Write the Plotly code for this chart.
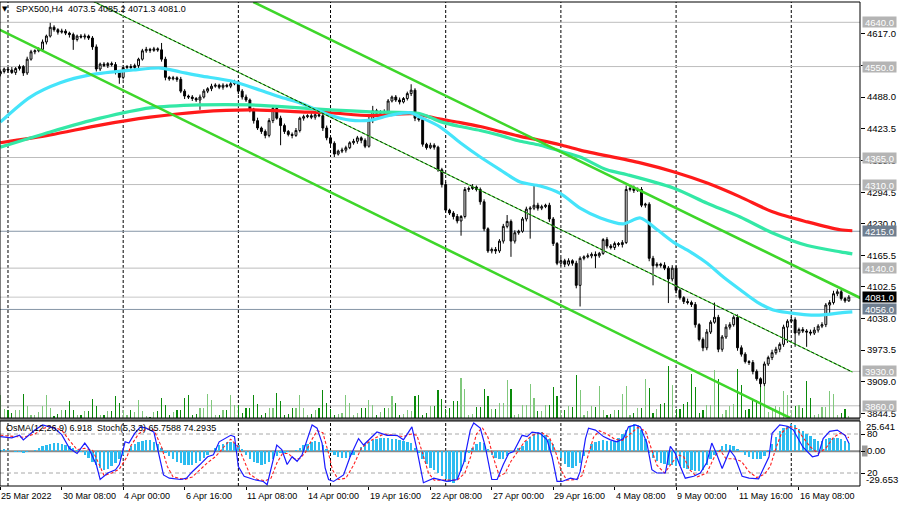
import plotly.graph_objects as go

FONT = "Liberation Sans"

# ---------------- price data (H4 bars) ----------------
first_open = 4535
closes = [
    4540, 4545, 4543, 4538, 4546, 4550, 4537, 4565, 4580, 4582,
    4585, 4600, 4612, 4630, 4625, 4620, 4622, 4618, 4615, 4605,
    4612, 4610, 4612, 4608, 4590, 4545, 4555, 4552, 4556, 4554,
    4540, 4528, 4548, 4550, 4548, 4552, 4565, 4582, 4585, 4583,
    4586, 4584, 4565, 4528, 4525, 4527, 4524, 4500, 4490, 4488,
    4485, 4482, 4488, 4500, 4505, 4510, 4512, 4508, 4512, 4510,
    4515, 4519, 4500, 4488, 4482, 4462, 4440, 4425, 4418, 4410,
    4440, 4465, 4445, 4430, 4418, 4412, 4410, 4420, 4445, 4448,
    4450, 4447, 4452, 4450, 4425, 4405, 4394, 4372, 4378, 4380,
    4385, 4395, 4398, 4405, 4400, 4388, 4440, 4460, 4455, 4458,
    4456, 4480, 4488, 4482, 4478, 4485, 4495, 4502, 4445, 4442,
    4392, 4385, 4390, 4386, 4340, 4310, 4258, 4252, 4245, 4236,
    4245, 4300, 4302, 4305, 4300, 4275, 4220, 4175, 4178, 4175,
    4195, 4225, 4235, 4195, 4212, 4215, 4240, 4260, 4262, 4268,
    4262, 4265, 4268, 4240, 4190, 4150, 4155, 4148, 4155, 4150,
    4105, 4160, 4163, 4165, 4168, 4165, 4170, 4198, 4185, 4182,
    4190, 4188, 4192, 4300, 4302, 4298, 4300, 4268, 4270, 4160,
    4145, 4148, 4146, 4140, 4118, 4140, 4095, 4080, 4072, 4070,
    4066, 4025, 3995, 3978, 4010, 4030, 4040, 3975, 4000, 4020,
    4025, 4040, 3978, 3965, 3950, 3948, 3930, 3915, 3905, 3945,
    3958, 3968, 3975, 3985, 4020, 4032, 4035, 4008, 4015, 4012,
    4010, 4008, 4014, 4022, 4025, 4065, 4070, 4088, 4092, 4078,
    4073.5, 4081.0,
]
up_wick = [
    4, 3, 5, 6, 3, 4, 3, 5, 4, 3,
    4, 5, 3, 9, 4, 3, 5, 4, 3, 4,
    3, 4, 5, 3, 4, 5, 3, 4, 3, 4,
    5, 3, 4, 3, 5, 4, 3, 4, 5, 3,
    4, 3, 14, 5, 3, 4, 3, 5, 4, 3,
    4, 3, 5, 4, 3, 5, 4, 3, 4, 3,
    5, 4, 3, 4, 5, 3, 4, 6, 3, 4,
    5, 4, 3, 5, 4, 3, 4, 5, 3, 4,
    3, 5, 4, 3, 4, 5, 3, 4, 3, 5,
    4, 3, 5, 4, 3, 4, 12, 10, 4, 3,
    5, 4, 3, 4, 5, 3, 4, 12, 4, 5,
    4, 3, 5, 4, 3, 4, 5, 3, 4, 5,
    3, 5, 4, 6, 3, 4, 5, 3, 4, 5,
    4, 5, 13, 4, 5, 3, 4, 5, 4, 41,
    5, 4, 3, 5, 4, 3, 6, 4, 5, 3,
    5, 4, 3, 5, 4, 6, 3, 3, 5, 4,
    4, 3, 5, 8, 4, 6, 4, 5, 3, 4,
    5, 4, 3, 6, 4, 6, 5, 4, 3, 6,
    4, 5, 3, 4, 6, 4, 30, 5, 4, 6,
    5, 4, 6, 5, 4, 3, 5, 4, 3, 5,
    4, 6, 5, 4, 5, 4, 6, 5, 4, 5,
    4, 5, 6, 4, 5, 4, 5, 6, 5, 4,
    3, 4.2,
]
dn_wick = [
    5, 4, 6, 3, 5, 4, 6, 4, 3, 5,
    3, 4, 5, 3, 4, 5, 3, 4, 6, 21,
    4, 3, 5, 4, 6, 5, 4, 3, 5, 4,
    6, 13, 4, 5, 3, 4, 6, 3, 4, 5,
    3, 4, 5, 6, 4, 3, 5, 4, 6, 4,
    5, 4, 20, 3, 4, 5, 3, 4, 5, 3,
    4, 3, 6, 5, 4, 5, 6, 4, 5, 6,
    4, 5, 3, 40, 5, 4, 6, 3, 4, 5,
    3, 4, 5, 3, 6, 5, 4, 6, 3, 4,
    5, 3, 4, 5, 6, 4, 3, 5, 4, 3,
    4, 5, 3, 4, 5, 3, 4, 5, 6, 4,
    5, 4, 3, 5, 4, 6, 5, 4, 6, 5,
    30, 4, 5, 3, 4, 6, 5, 4, 5, 6,
    4, 5, 4, 32, 5, 4, 3, 5, 60, 4,
    5, 4, 3, 6, 5, 4, 5, 6, 4, 5,
    6, 43, 4, 3, 5, 25, 4, 3, 5, 4,
    5, 4, 6, 3, 4, 5, 3, 4, 5, 6,
    40, 4, 5, 4, 49, 5, 6, 4, 5, 4,
    5, 6, 4, 7, 5, 4, 3, 6, 5, 4,
    5, 4, 6, 5, 4, 5, 6, 4, 7, 5,
    4, 5, 4, 6, 5, 32, 4, 28, 5, 4,
    30, 5, 4, 5, 4, 5, 20, 4, 5, 4,
    4, 2.2,
]
volumes = [
    23, 9, 8, 5, 8, 8, 24, 12, 3, 3,
    6, 12, 23, 10, 2, 4, 8, 8, 17, 8,
    3, 3, 7, 7, 19, 12, 3, 3, 7, 7,
    22, 15, 8, 3, 8, 6, 18, 7, 2, 1,
    6, 7, 20, 13, 3, 6, 8, 8, 20, 23,
    3, 4, 10, 10, 24, 18, 3, 3, 8, 8,
    23, 13, 13, 5, 10, 10, 23, 14, 3, 5,
    10, 10, 25, 17, 3, 4, 10, 10, 23, 10,
    3, 4, 8, 10, 28, 15, 9, 3, 4, 5,
    23, 15, 3, 5, 10, 10, 18, 13, 3, 6,
    10, 10, 22, 15, 3, 4, 8, 7, 22, 23,
    3, 5, 12, 12, 28, 19, 9, 10, 17, 17,
    40, 29, 3, 4, 11, 11, 29, 22, 9, 9,
    15, 15, 38, 29, 3, 4, 13, 13, 34, 20,
    7, 7, 13, 13, 31, 22, 8, 8, 12, 11,
    43, 28, 3, 7, 12, 11, 32, 8, 3, 4,
    8, 8, 24, 32, 3, 5, 10, 10, 39, 30,
    5, 9, 14, 15, 52, 33, 9, 9, 14, 16,
    44, 31, 5, 8, 13, 13, 48, 39, 4, 8,
    12, 14, 49, 33, 8, 9, 18, 18, 31, 32,
    6, 8, 12, 11, 27, 23, 8, 12, 13, 10,
    37, 20, 3, 4, 11, 11, 27, 24, 3, 5,
    9, 2,
]
osma = [
    1, 1.5, 1, 0.5, -0.5, -1, -1.5, -1, 0,
    1, 2.5, 4, 5, 6, 6.8, 7, 6.5, 5.5,
    4, 2.5, 1, -1,
    -3, -6, -9, -12, -14.5, -15.7, -15, -13,
    -10, -6.5, -3,
    1, 4, 6.5, 8, 9, 9.6, 9.3, 8, 6,
    2.5, -1.5,
    -4.5, -7, -9, -10.5, -11.5, -12, -11.5, -10, -8, -6,
    -3, 0.5, 3, 5, 6.5, 7.8, 8, 7, 5,
    1.5, -3, -6.5, -9, -10.5, -11.5, -11, -9.5, -7,
    -4, -2, -1.5, -1, 0, 1,
    3, 5, 6.5, 7.5, 8.5, 7.5, 5, 2,
    -1, -3.5, -5, -5.8, -6, -5, -3,
    0.5, 3.5, 6, 8, 9.5, 10.5, 11, 11.2, 11, 10.5, 10, 9.5, 9, 8, 7,
    3, -2, -7, -11, -14, -16, -18.5, -21, -24, -26, -27,
    -24, -17, -9, -2, 3, 6.5, 8, 7, 2, -3, -5.5, -7, -6.5, -4.5, -2, 0.5, 2.5,
    4.5, 9, 12, 15, 16.5, 16, 14, 10.5, 6,
    -1, -6, -11, -13.5, -14, -13, -10,
    -4, 1,
    6, 8, 9, 9.5, 9, 8.5, 9, 11, 14.5, 18, 21.5, 23.5, 22, 18, 10,
    -2, -6, -8.5, -10, -11, -11.5, -12, -12.5, -13, -14, -15, -15.7, -16.5, -17, -16, -12,
    -7, -3, 1, 4, 6, 5.5, 4, 2, -1, -3, -5, -6.5, -7, -6.5, -4,
    1, 6, 12, 17, 19.5, 21.5, 23.5, 22, 19, 17, 14.5, 12.5, 10.5, 9, 9, 10, 11, 11.5, 11, 10, 8.5, 6.9,
]
stoch_main_pts = [
    (0, 76), (3, 74), (5, 78), (6, 71), (9, 86), (11, 94), (14, 89), (16, 79), (18, 58), (20, 50),
    (22, 66), (23, 58), (25, 33), (26, 10), (28, 20), (30, 25), (31, 33), (32.5, 68), (33.5, 66), (35, 81),
    (36.5, 91), (38, 89), (40, 83), (41, 56), (42.5, 17), (44, 12), (47, 10), (48.5, 12), (50, 22), (52, 33),
    (54, 45), (55.5, 48), (57, 68), (60, 78), (61, 76), (62, 30), (63.5, 15), (66, 10), (68.5, 7), (69.5, 2),
    (70.7, 30), (72, 63), (73.3, 56), (74.7, 33), (76, 45), (77.3, 38), (78.6, 48), (80, 71), (81.2, 94), (82.5, 89),
    (83.8, 66), (84.6, 28), (85.5, 10), (86.8, 7), (89.4, 17), (91.1, 45), (93.3, 73), (94.6, 63), (96.4, 73), (98.1, 83),
    (100.7, 78), (103.3, 78), (105, 71), (107.2, 91), (108.5, 56), (110.2, 5), (112.9, 12), (114.6, 10), (116.3, 7), (119, 10),
    (120.7, 36), (122.4, 86), (123.3, 97), (125, 89), (126.3, 61), (128, 10), (129.4, 10), (131, 33), (132.4, 50), (133.7, 53),
    (135.9, 78), (137.2, 76), (138.5, 83), (140.6, 81), (142.4, 71), (143.7, 45), (145, 7), (146.3, 7), (148.5, 12), (150.2, 10),
    (151, 22), (152.4, 73), (153.2, 89), (155, 86), (157.1, 76), (158.9, 71), (160.6, 68), (162.3, 73), (163.6, 91), (165.4, 94),
    (166.7, 91), (168.4, 66), (169.7, 25), (171, 20), (173.2, 20), (174.5, 61), (175.8, 50), (177.1, 30), (178.4, 12), (180.6, 15),
    (182.3, 20), (184, 36), (185.3, 66), (186.5, 50), (188, 27), (190, 55), (191.3, 45), (193.2, 15), (195, 12), (197.5, 11),
    (198.8, 28), (200.2, 45), (201, 81), (203, 94), (205, 92), (206.6, 86), (207.3, 78), (209, 60), (211.5, 45), (213, 47),
    (214.3, 73), (216, 84), (218, 86), (220, 78), (221, 65.76),
]
stoch_signal_pts = [
    (0, 78), (3, 76), (6, 75), (9, 80), (11, 88), (13, 92), (16, 86), (18, 70), (20, 56), (22, 58),
    (24, 55), (26, 30), (27, 16), (29, 20), (31, 26), (33, 45), (34, 62), (36, 80), (38, 88), (40, 86),
    (42, 60), (43.5, 30), (45, 14), (48, 10), (50, 14), (52, 25), (54, 36), (56, 45), (58, 58), (60, 72),
    (62, 60), (63.5, 40), (65, 18), (67, 10), (69, 8), (70.5, 12), (72, 35), (73.5, 50), (75, 50), (76.5, 42),
    (78, 42), (79.5, 52), (81, 70), (82.5, 85), (84, 82), (85.5, 50), (86.5, 25), (88, 10), (90, 12), (92, 32),
    (94, 58), (96, 68), (98, 75), (100, 80), (103, 78), (105, 76), (107, 80), (108.5, 78), (110, 50), (111.5, 20),
    (113, 9), (116, 9), (119, 9), (121, 20), (122.5, 45), (124, 80), (125.5, 90), (127, 75), (128.5, 42), (130, 15),
    (131.5, 20), (133, 38), (135, 55), (136.5, 68), (138.5, 78), (141, 82), (143, 75), (144.5, 55), (146, 25), (147.5, 9),
    (150, 10), (151.5, 16), (153, 45), (154.5, 75), (156, 85), (158, 80), (160, 72), (162, 70), (164, 80), (166, 90),
    (168, 85), (169.5, 60), (171, 32), (173, 20), (175, 35), (176.5, 48), (178, 45), (179.5, 25), (181.5, 14), (184, 20),
    (186, 45), (187.5, 55), (189, 42), (191, 42), (193, 38), (195, 22), (197, 13), (199, 18), (200.5, 30), (202, 58),
    (203.5, 82), (205.5, 92), (207.5, 88), (209, 75), (211, 60), (213, 50), (215, 58), (217, 75), (219, 82), (221, 74.29),
]
# moving averages, sampled (bar position, price)
ma_fast_pts = [
    (0, 4437), (7.8, 4488), (15.6, 4517), (23.4, 4533), (34.6, 4543), (41.7, 4547), (46.9, 4539), (52.1, 4531),
    (59.9, 4521), (67.7, 4502), (72.9, 4488), (78.1, 4476), (85.9, 4451), (91.1, 4441), (96.4, 4441), (101.6, 4451),
    (106.8, 4456), (109.4, 4447), (114.6, 4427), (119.8, 4395), (125, 4366), (130.2, 4340), (135.4, 4315),
    (140.6, 4307), (145.8, 4292), (151, 4262), (156.3, 4242), (162.2, 4230), (166.7, 4242), (171.1, 4218),
    (175.3, 4193), (179.7, 4173), (184.1, 4150), (188.3, 4122), (192.7, 4096), (197.1, 4071), (201.3, 4055),
    (205.7, 4049), (210.2, 4045), (214.3, 4045), (218.8, 4049), (221.9, 4051),
]
ma_mid_pts = [
    (0, 4386), (13, 4417), (26, 4445), (39, 4466), (52.1, 4472), (65.1, 4472), (78.1, 4466), (85.9, 4462),
    (96.4, 4458), (109.4, 4454), (114.6, 4438), (119.8, 4428), (125, 4420), (130.2, 4410), (135.4, 4398),
    (140.6, 4390), (145.8, 4378), (151, 4366), (158, 4340), (163.3, 4330), (175.3, 4303), (184.1, 4272),
    (192.7, 4244), (201.3, 4211), (210.2, 4186), (218.8, 4173), (221.9, 4169),
]
ma_slow_pts = [
    (0, 4395), (13, 4411), (26, 4431), (39, 4447), (52.1, 4458), (65.1, 4462), (78.1, 4458), (85.9, 4456),
    (96.4, 4450), (107.5, 4454), (114.6, 4443), (119.8, 4436), (125, 4428), (130.2, 4418), (135.4, 4408),
    (140.6, 4400), (145.8, 4391), (151, 4380), (166.7, 4354), (175.3, 4336), (184.1, 4313), (192.7, 4285),
    (201.3, 4254), (210.2, 4234), (218.8, 4218), (221.9, 4216),
]
# trend channel lines (bar, price)
channel_low = [(-1, 4628.2), (205.7, 3835.2)]
channel_up = [(65.9, 4681.3), (224.0, 4079.3)]
channel_mid = [(24.0, 4683.4), (221.9, 3928.8)]

levels = [4640.0, 4550.0, 4365.0, 4310.0, 4215.0, 4140.0, 4081.0, 4056.0, 3930.0, 3860.0]
level_kind = ["s", "s", "s", "s", "b", "s", "c", "b", "s", "s"]
price_ticks = [4617.0, 4552.5, 4488.0, 4423.5, 4359.0, 4294.5, 4230.0, 4165.5, 4102.5,
               4038.0, 3973.5, 3909.0, 3844.5]
x_tick_bars = [0, 16, 32, 48, 64, 80, 96, 112, 128, 144, 160, 176, 192, 208]
x_tick_labels = ["25 Mar 2022", "30 Mar 08:00", "4 Apr 00:00", "6 Apr 16:00", "11 Apr 08:00",
                 "14 Apr 00:00", "19 Apr 16:00", "22 Apr 08:00", "27 Apr 00:00", "29 Apr 16:00",
                 "4 May 08:00", "9 May 00:00", "11 May 16:00", "16 May 08:00"]
week_start_bars = [2, 32, 62, 86, 116, 146, 176, 206]

n = len(closes)
assert len(up_wick) == n and len(dn_wick) == n and len(volumes) == n and len(osma) == n, \
    (n, len(up_wick), len(dn_wick), len(volumes), len(osma))

bars = list(range(n))
opens = [first_open] + closes[:-1]
highs = [max(o, c) + u for o, c, u in zip(opens, closes, up_wick)]
lows = [min(o, c) - d for o, c, d in zip(opens, closes, dn_wick)]

# ---------------- geometry ----------------
W, H = 900, 506
MT, MB, ML, MR = 2, 20, 0, 40
PH = H - MT - MB
main_bottom = (H - MB - 418) / PH
sub_top = (H - MB - 421) / PH
x_range = [-0.08, 223.9]

fig = go.Figure()

# volume (base axis of main pane)
vol_colors = ["#0a8a0a" if c < o else "#80c87c" for o, c in zip(opens, closes)]
fig.add_trace(go.Bar(x=bars, y=volumes, width=0.3, marker=dict(color=vol_colors, line=dict(width=0)),
                     xaxis="x", yaxis="y", hoverinfo="skip", showlegend=False))

# candles
fig.add_trace(go.Candlestick(
    x=bars, open=opens, high=highs, low=lows, close=closes, xaxis="x", yaxis="y2",
    increasing=dict(line=dict(color="#000000", width=1), fillcolor="#ffffff"),
    decreasing=dict(line=dict(color="#000000", width=1), fillcolor="#000000"),
    whiskerwidth=0, hoverinfo="skip", showlegend=False))


def add_line(pts, color, width, dash="solid", shape="linear", yaxis="y2", xaxis="x"):
    fig.add_trace(go.Scatter(x=[p[0] for p in pts], y=[p[1] for p in pts], mode="lines",
                             line=dict(color=color, width=width, dash=dash, shape=shape,
                                       smoothing=0.8 if shape == "spline" else None),
                             xaxis=xaxis, yaxis=yaxis, hoverinfo="skip", showlegend=False))


# moving averages
add_line(ma_slow_pts, "#ff1a1a", 3.2, shape="spline")
add_line(ma_mid_pts, "#33e8a6", 3.2, shape="spline")
add_line(ma_fast_pts, "#45e4fa", 3.2, shape="spline")

# channel lines
add_line(channel_low, "#3ed62a", 2.6)
add_line(channel_up, "#3ed62a", 2.6)
add_line(channel_mid, "#3ed62a", 1.2)
add_line(channel_mid, "#000000", 0.8, dash="3px,2px")

# OsMA histogram
fig.add_trace(go.Bar(x=bars, y=osma, width=0.62, marker=dict(color="#2cbcf0", line=dict(width=0)),
                     xaxis="x2", yaxis="y3", hoverinfo="skip", showlegend=False))
# stochastic
add_line(stoch_signal_pts, "#ff2020", 1.1, dash="3px,2px", xaxis="x2", yaxis="y4")
add_line(stoch_main_pts, "#1a1aff", 1.2, xaxis="x2", yaxis="y4")

shapes = []
# pane frames / separator
shapes.append(dict(type="rect", xref="paper", yref="paper", x0=0, x1=1, y0=sub_top, y1=main_bottom,
                   fillcolor="#7a7a7a", line=dict(width=0), layer="above"))
shapes.append(dict(type="rect", xref="paper", yref="paper", x0=0, x1=1, y0=main_bottom, y1=1,
                   line=dict(color="#000000", width=1), layer="above"))
shapes.append(dict(type="rect", xref="paper", yref="paper", x0=0, x1=1, y0=0, y1=sub_top,
                   line=dict(color="#000000", width=1), layer="above"))
# weekly dashed separators
for b in week_start_bars:
    for y0, y1 in [(main_bottom, 1), (0, sub_top)]:
        shapes.append(dict(type="line", xref="x", yref="paper", x0=b, x1=b, y0=y0, y1=y1,
                           line=dict(color="#000000", width=1, dash="3px,2px"), layer="below"))
# horizontal levels
for lv, k in zip(levels, level_kind):
    col = {"s": "#bdbdbd", "b": "#8595a6", "c": "#c8c8c8"}[k]
    shapes.append(dict(type="line", xref="paper", yref="y2", x0=0, x1=1, y0=lv, y1=lv,
                       line=dict(color=col, width=1), layer="below"))
# stochastic levels and OsMA zero line
for s in [80, 20]:
    shapes.append(dict(type="line", xref="paper", yref="y4", x0=0, x1=1, y0=s, y1=s,
                       line=dict(color="#a8a8a8", width=1, dash="4px,3px"), layer="below"))
shapes.append(dict(type="line", xref="paper", yref="y3", x0=0, x1=1, y0=0, y1=0,
                   line=dict(color="#8a8a8a", width=2), layer="below"))
# small grey marker behind 0.00 label
shapes.append(dict(type="rect", xref="paper", yref="paper", x0=862 / 860, x1=867.5 / 860,
                   y0=(H - MB - 456.5) / PH, y1=(H - MB - 445.5) / PH,
                   fillcolor="#9a9a9a", line=dict(width=0), layer="below"))

annotations = []
label_bg = {"s": "#b4b4b4", "b": "#6f7e8f", "c": "#000000"}
for lv, k in zip(levels, level_kind):
    annotations.append(dict(x=1, xref="paper", xanchor="left", xshift=2, y=lv, yref="y2", yanchor="middle",
                            text=f"{lv:.1f}", showarrow=False, bgcolor=label_bg[k], width=33, height=10,
                            borderpad=0, font=dict(family=FONT, size=9.5, color="#ffffff")))
# x-axis labels (left aligned at bar)
for b, t in zip(x_tick_bars, x_tick_labels):
    annotations.append(dict(x=b, xref="x", xanchor="left", xshift=-1, y=0, yref="paper", yanchor="top",
                            yshift=-3, text=t, showarrow=False, font=dict(family=FONT, size=9, color="#000000")))
# sub-pane min/max labels
annotations.append(dict(x=1, xref="paper", xanchor="left", xshift=4, y=21, yref="y3", yanchor="middle",
                        text="25.641", showarrow=False, font=dict(family=FONT, size=9.5, color="#000000")))
annotations.append(dict(x=1, xref="paper", xanchor="left", xshift=4, y=-24.3, yref="y3", yanchor="middle",
                        text="-29.653", showarrow=False, font=dict(family=FONT, size=9.5, color="#000000")))
# titles
annotations.append(dict(x=5 / 860, xref="paper", xanchor="center", y=(H - MB - 9) / PH, yref="paper",
                        yanchor="middle", text="\u25bc", showarrow=False,
                        font=dict(family="DejaVu Sans", size=7, color="#000000")))
annotations.append(dict(x=14 / 860, xref="paper", xanchor="left", y=(H - MB - 9) / PH, yref="paper",
                        yanchor="middle", text="SPX500,H4  4073.5 4085.2 4071.3 4081.0", showarrow=False,
                        font=dict(family=FONT, size=9, color="#000000")))
annotations.append(dict(x=4 / 860, xref="paper", xanchor="left", y=(H - MB - 428) / PH, yref="paper",
                        yanchor="middle", text="OsMA(12,26,9) 6.918  Stoch(5,3,3) 65.7588 74.2935",
                        showarrow=False, font=dict(family=FONT, size=9, color="#000000")))

axis_font = dict(family=FONT, size=9.5, color="#000000")
fig.update_layout(
    width=W, height=H, margin=dict(l=ML, r=MR, t=MT, b=MB),
    paper_bgcolor="#ffffff", plot_bgcolor="#ffffff", template="none",
    font=dict(family=FONT, size=9.5, color="#000000"),
    showlegend=False, barmode="overlay", bargap=0,
    xaxis=dict(domain=[0, 1], range=x_range, anchor="y", showticklabels=False, showgrid=False,
               zeroline=False, ticks="", showline=False, rangeslider=dict(visible=False), automargin=False),
    xaxis2=dict(domain=[0, 1], range=x_range, anchor="y3", matches="x", showticklabels=False,
                showgrid=False, zeroline=False, ticks="outside", tickvals=x_tick_bars, ticklen=3,
                tickcolor="#000000", showline=False, automargin=False),
    yaxis=dict(domain=[main_bottom, 1], range=[0, 416], visible=False, showgrid=False, zeroline=False,
               automargin=False),
    yaxis2=dict(overlaying="y", anchor="x", side="right", range=[3835.2, 4681.3], tickvals=price_ticks,
                ticktext=[f"{v:.1f}" for v in price_ticks], ticks="outside", ticklen=4, tickcolor="#000000",
                showgrid=False, zeroline=False, showline=False, tickfont=axis_font, automargin=False),
    yaxis3=dict(domain=[0, sub_top], anchor="x2", side="right", range=[-29.653, 25.641], tickvals=[0],
                ticktext=["0.00"], ticks="outside", ticklen=4, tickcolor="#000000", showgrid=False,
                zeroline=False, showline=False, tickfont=axis_font, automargin=False),
    yaxis4=dict(overlaying="y3", anchor="x2", side="right", range=[0, 100], tickvals=[80, 20],
                ticktext=["80", "20"], ticks="outside", ticklen=4, tickcolor="#000000", showgrid=False,
                zeroline=False, showline=False, tickfont=axis_font, automargin=False),
    shapes=shapes, annotations=annotations,
)

fig.write_html("out.html", config={"displayModeBar": False, "staticPlot": True},
               post_script="document.body.style.margin='0';document.body.style.padding='0';"
                           "document.body.style.overflow='hidden';")
